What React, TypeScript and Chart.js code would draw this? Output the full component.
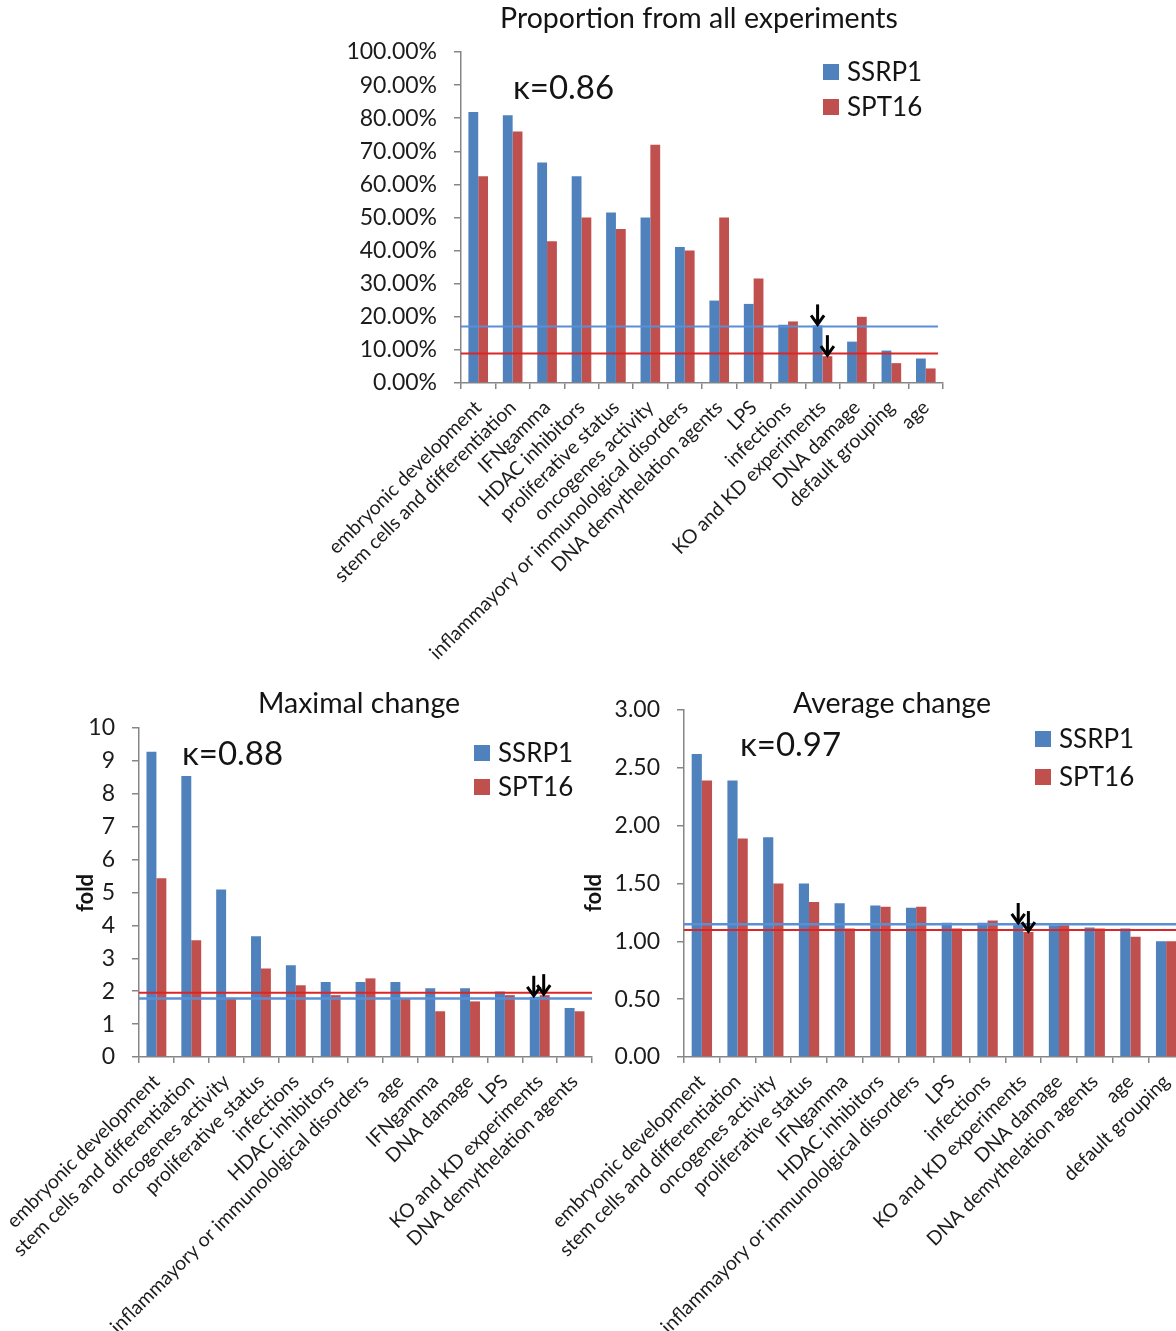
import React, { useEffect, useRef } from 'react';
import { Chart, registerables } from 'chart.js';

Chart.register(...registerables);

// ---------------- DATA ----------------
const SERIES_NAMES = ['SSRP1', 'SPT16'];
const ARROW_CATEGORY = 'KO and KD experiments';

const propCategories = [
  'embryonic development',
  'stem cells and differentiation',
  'IFNgamma',
  'HDAC inhibitors',
  'proliferative status',
  'oncogenes activity',
  'inflammayory or immunololgical disorders',
  'DNA demythelation agents',
  'LPS',
  'infections',
  'KO and KD experiments',
  'DNA damage',
  'default grouping',
  'age',
];
const propSSRP1 = [81.9, 80.9, 66.6, 62.5, 51.5, 50.0, 41.1, 24.9, 23.9, 17.6, 17.4, 12.5, 9.8, 7.4];
const propSPT16 = [62.5, 76.0, 42.8, 50.0, 46.5, 72.0, 40.0, 50.0, 31.6, 18.6, 8.1, 20.0, 6.0, 4.4];
const propLineSSRP1 = 17.1;
const propLineSPT16 = 8.9;
const propKappa = 'κ=0.86';

const maxCategories = [
  'embryonic development',
  'stem cells and differentiation',
  'oncogenes activity',
  'proliferative status',
  'infections',
  'HDAC inhibitors',
  'inflammayory or immunololgical disorders',
  'age',
  'IFNgamma',
  'DNA damage',
  'LPS',
  'KO and KD experiments',
  'DNA demythelation agents',
];
const maxSSRP1 = [9.28, 8.54, 5.09, 3.67, 2.79, 2.28, 2.28, 2.28, 2.09, 2.09, 1.99, 1.83, 1.49];
const maxSPT16 = [5.43, 3.55, 1.8, 2.69, 2.18, 1.88, 2.39, 1.77, 1.39, 1.69, 1.88, 1.88, 1.39];
const maxLineSSRP1 = 1.78;
const maxLineSPT16 = 1.95;
const maxKappa = 'κ=0.88';

const avgCategories = [
  'embryonic development',
  'stem cells and differentiation',
  'oncogenes activity',
  'proliferative status',
  'IFNgamma',
  'HDAC inhibitors',
  'inflammayory or immunololgical disorders',
  'LPS',
  'infections',
  'KO and KD experiments',
  'DNA damage',
  'DNA demythelation agents',
  'age',
  'default grouping',
];
const avgSSRP1 = [2.62, 2.39, 1.9, 1.5, 1.33, 1.31, 1.29, 1.16, 1.16, 1.15, 1.14, 1.12, 1.11, 1.0];
const avgSPT16 = [2.39, 1.89, 1.5, 1.34, 1.11, 1.3, 1.3, 1.11, 1.18, 1.08, 1.14, 1.11, 1.04, 1.0];
const avgLineSSRP1 = 1.147;
const avgLineSPT16 = 1.098;
const avgKappa = 'κ=0.97';

// ---------------- STYLE ----------------
const FONT = 'Lato, "Open Sans", "DejaVu Sans", sans-serif';
const BLUE = '#4F81BD';
const RED = '#C0504D';
const AXIS = '#868686';
const TEXT = '#1c1c1c';

type Spec = {
  left: number;
  top: number;
  w: number;
  h: number;
  yWidth: number;
  xHeight: number;
  padTop: number;
  padRight: number;
  categories: string[];
  s1: number[];
  s2: number[];
  lines: { value: number; color: string; width: number }[];
  lineTrim: number;
  yMax: number;
  yStep: number;
  fmt: (v: number) => string;
  title: string;
  titleX: number;
  titleY: number;
  kappa: string;
  kappaX: number;
  kappaY: number;
  legendX: number;
  legendY: number;
  legendGap: number;
  foldX?: number;
  foldY?: number;
  arrowDx: number;
};

function drawArrow(ctx: CanvasRenderingContext2D, x: number, tipY: number) {
  const len = 21;
  ctx.save();
  ctx.strokeStyle = '#000';
  ctx.lineWidth = 3;
  ctx.lineCap = 'butt';
  ctx.lineJoin = 'miter';
  ctx.beginPath();
  ctx.moveTo(x, tipY - len);
  ctx.lineTo(x, tipY - 2);
  ctx.stroke();
  ctx.beginPath();
  ctx.moveTo(x - 6.5, tipY - 10);
  ctx.lineTo(x, tipY - 1);
  ctx.lineTo(x + 6.5, tipY - 10);
  ctx.stroke();
  ctx.restore();
}

function makeOverlay(spec: Spec) {
  return {
    id: 'overlay',
    afterDatasetsDraw(chart: any) {
      const ctx: CanvasRenderingContext2D = chart.ctx;
      const ys = chart.scales.y;
      const a = chart.chartArea;
      ctx.save();
      spec.lines.forEach((l) => {
        const y = ys.getPixelForValue(l.value);
        ctx.strokeStyle = l.color;
        ctx.lineWidth = l.width;
        ctx.beginPath();
        ctx.moveTo(a.left, y);
        ctx.lineTo(a.right - spec.lineTrim, y);
        ctx.stroke();
      });
      ctx.restore();
      const idx = spec.categories.indexOf(ARROW_CATEGORY);
      if (idx >= 0) {
        chart.data.datasets.forEach((_: any, di: number) => {
          const el = chart.getDatasetMeta(di).data[idx];
          drawArrow(ctx, el.x + spec.arrowDx, el.y);
        });
      }
    },
    afterDraw(chart: any) {
      const ctx: CanvasRenderingContext2D = chart.ctx;
      ctx.save();
      ctx.fillStyle = '#141414';
      ctx.textBaseline = 'middle';
      ctx.textAlign = 'center';
      ctx.font = `28.5px ${FONT}`;
      ctx.fillText(spec.title, spec.titleX, spec.titleY);
      ctx.textAlign = 'left';
      ctx.font = `33px ${FONT}`;
      ctx.fillText(spec.kappa, spec.kappaX, spec.kappaY);
      // legend
      chart.data.datasets.forEach((ds: any, i: number) => {
        const cy = spec.legendY + i * spec.legendGap;
        ctx.fillStyle = ds.backgroundColor;
        ctx.fillRect(spec.legendX, cy - 8, 16, 16);
        ctx.fillStyle = '#141414';
        ctx.font = `26px ${FONT}`;
        ctx.textAlign = 'left';
        ctx.fillText(ds.label, spec.legendX + 24, cy + 1);
      });
      if (spec.foldX !== undefined && spec.foldY !== undefined) {
        ctx.translate(spec.foldX, spec.foldY);
        ctx.rotate(-Math.PI / 2);
        ctx.textAlign = 'center';
        ctx.font = `bold 22px ${FONT}`;
        ctx.fillStyle = '#141414';
        ctx.fillText('fold', 0, 0);
      }
      ctx.restore();
    },
  };
}

function BarPanel({ spec }: { spec: Spec }) {
  const ref = useRef<HTMLCanvasElement>(null);
  useEffect(() => {
    if (!ref.current) return;
    const chart = new Chart(ref.current, {
      type: 'bar',
      data: {
        labels: spec.categories,
        datasets: [
          { label: SERIES_NAMES[0], data: spec.s1, backgroundColor: BLUE, barPercentage: 1, categoryPercentage: 0.57 },
          { label: SERIES_NAMES[1], data: spec.s2, backgroundColor: RED, barPercentage: 1, categoryPercentage: 0.57 },
        ],
      },
      options: {
        responsive: false,
        animation: false,
        events: [],
        layout: { padding: { left: 0, top: spec.padTop, right: spec.padRight, bottom: 0 } },
        plugins: { legend: { display: false }, title: { display: false }, tooltip: { enabled: false } },
        scales: {
          x: {
            offset: true,
            grid: { offset: true, drawOnChartArea: false, drawTicks: true, tickLength: 6, color: AXIS, lineWidth: 1.5 },
            border: { color: AXIS, width: 1.5 },
            ticks: {
              autoSkip: false,
              minRotation: 45,
              maxRotation: 45,
              padding: 7,
              color: TEXT,
              font: { family: FONT, size: 19.5 },
            },
            afterFit: (s: any) => {
              s.height = spec.xHeight;
              s.paddingLeft = 0;
              s.paddingRight = 0;
            },
          },
          y: {
            min: 0,
            max: spec.yMax,
            grid: { drawOnChartArea: false, drawTicks: true, tickLength: 7, color: AXIS, lineWidth: 1.5 },
            border: { color: AXIS, width: 1.5 },
            ticks: {
              stepSize: spec.yStep,
              autoSkip: false,
              padding: 17,
              color: TEXT,
              font: { family: FONT, size: 23 },
              callback: (v: any) => spec.fmt(Number(v)),
            },
            afterFit: (s: any) => {
              s.width = spec.yWidth;
              s.paddingTop = 0;
              s.paddingBottom = 0;
            },
          },
        },
      },
      plugins: [makeOverlay(spec)],
    } as any);
    return () => chart.destroy();
  }, [spec]);
  return (
    <canvas
      ref={ref}
      width={spec.w}
      height={spec.h}
      style={{ position: 'absolute', left: spec.left, top: spec.top, width: spec.w, height: spec.h }}
    />
  );
}

const LINE_BLUE = '#5a8fd6';
const LINE_RED = '#dc2626';

const propSpec: Spec = {
  left: 300, top: 0, w: 680, h: 680,
  yWidth: 161, xHeight: 297, padTop: 52, padRight: 37,
  categories: propCategories, s1: propSSRP1, s2: propSPT16,
  lines: [
    { value: propLineSSRP1, color: LINE_BLUE, width: 2 },
    { value: propLineSPT16, color: LINE_RED, width: 2 },
  ],
  lineTrim: 5,
  yMax: 100, yStep: 10, fmt: (v) => v.toFixed(2) + '%',
  title: 'Proportion from all experiments', titleX: 399, titleY: 19,
  kappa: propKappa, kappaX: 213, kappaY: 88,
  legendX: 523, legendY: 72, legendGap: 35,
  arrowDx: 0,
};

const maxSpec: Spec = {
  left: -21, top: 680, w: 640, h: 651,
  yWidth: 160, xHeight: 274, padTop: 48, padRight: 27,
  categories: maxCategories, s1: maxSSRP1, s2: maxSPT16,
  lines: [
    { value: maxLineSPT16, color: LINE_RED, width: 2 },
    { value: maxLineSSRP1, color: LINE_BLUE, width: 2.5 },
  ],
  lineTrim: 0,
  yMax: 10, yStep: 1, fmt: (v) => String(Math.round(v)),
  title: 'Maximal change', titleX: 380, titleY: 24,
  kappa: maxKappa, kappaX: 203, kappaY: 74,
  legendX: 495, legendY: 73, legendGap: 34,
  foldX: 107, foldY: 213,
  arrowDx: -1,
};

const avgSpec: Spec = {
  left: 520, top: 680, w: 680, h: 651,
  yWidth: 164, xHeight: 274, padTop: 30, padRight: 16,
  categories: avgCategories, s1: avgSSRP1, s2: avgSPT16,
  lines: [
    { value: avgLineSSRP1, color: LINE_BLUE, width: 2.5 },
    { value: avgLineSPT16, color: LINE_RED, width: 2 },
  ],
  lineTrim: 0,
  yMax: 3, yStep: 0.5, fmt: (v) => v.toFixed(2),
  title: 'Average change', titleX: 372, titleY: 24,
  kappa: avgKappa, kappaX: 220, kappaY: 65,
  legendX: 515, legendY: 59, legendGap: 38,
  foldX: 74, foldY: 213,
  arrowDx: 0,
};

export default function App() {
  return (
    <div
      style={{
        position: 'fixed',
        left: 0,
        top: 0,
        width: 1176,
        height: 1331,
        overflow: 'hidden',
        background: '#fff',
      }}
    >
      <BarPanel spec={propSpec} />
      <BarPanel spec={maxSpec} />
      <BarPanel spec={avgSpec} />
    </div>
  );
}
